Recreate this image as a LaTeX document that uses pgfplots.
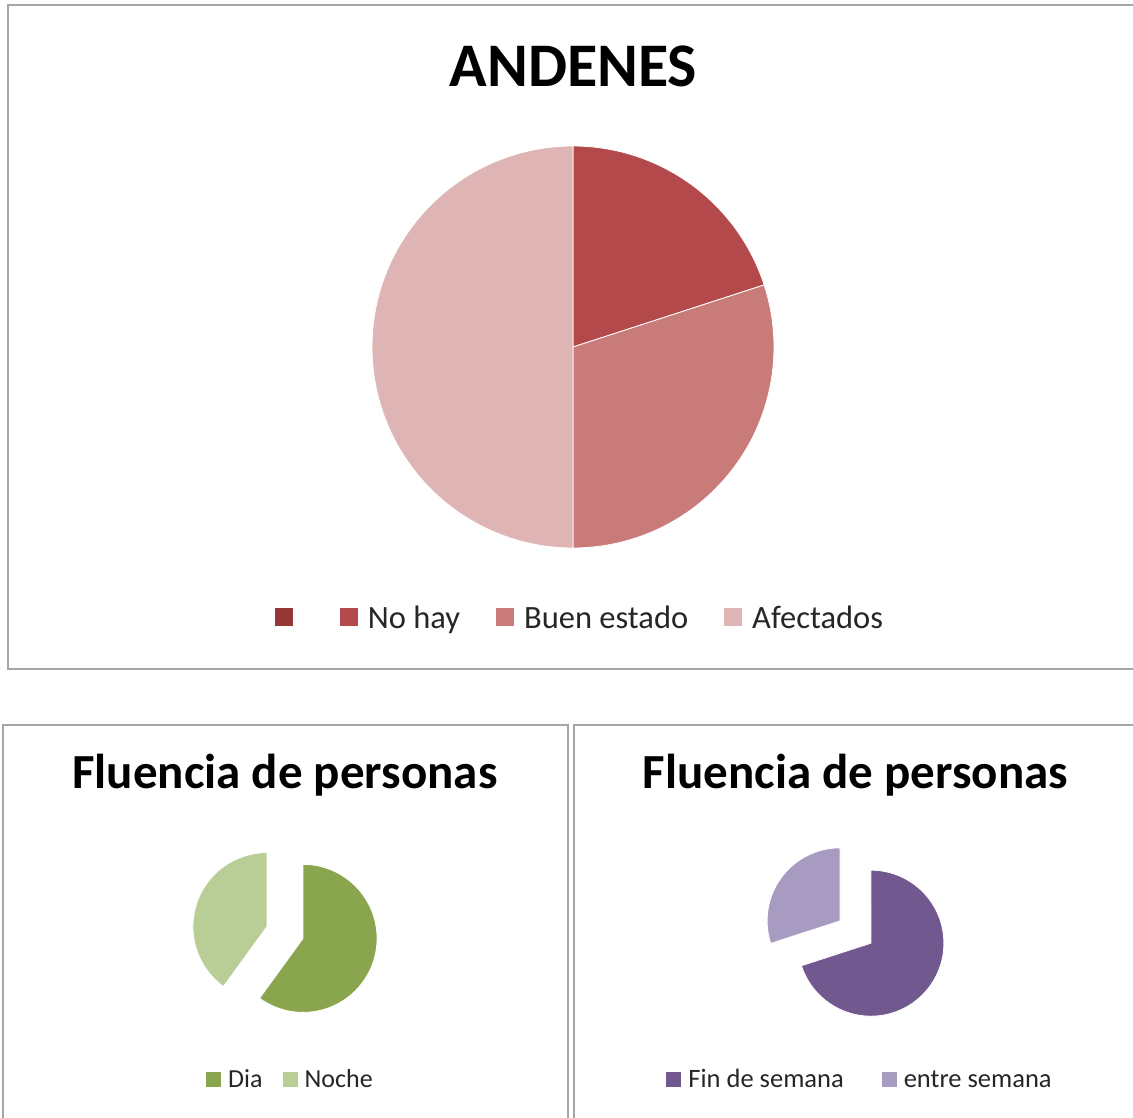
\documentclass[border=0pt]{standalone}
\usepackage{fontspec}
\setmainfont{Carlito}
\usepackage{pgfplots}
\pgfplotsset{compat=1.18}
\definecolor{cBlank}{HTML}{953735}
\definecolor{cNo}{HTML}{B3494A}
\definecolor{cBuen}{HTML}{C97B7A}
\definecolor{cAfe}{HTML}{DFB4B4}
\definecolor{cDia}{HTML}{89A54E}
\definecolor{cNoche}{HTML}{B9CE96}
\definecolor{cFin}{HTML}{71588F}
\definecolor{cEntre}{HTML}{A89BC1}
\definecolor{frame}{HTML}{A6A6A6}

% ---- data (percent) ----
\def\vBlank{0}\def\vNo{20}\def\vBuen{30}\def\vAfe{50}
\def\vDia{60}\def\vNoche{40}
\def\vFin{70}\def\vEntre{30}

\pgfplotsset{
  piebase/.style={hide axis, scale only axis, x=1pt, y=1pt,
    xmin=0, xmax=1133, ymin=-1117, ymax=0,
    at={(0pt,0pt)}, anchor=north west, clip=false,
    legend columns=-1},
}

\begin{document}
\begin{tikzpicture}
\useasboundingbox (0pt,0pt) rectangle (1133pt,-1117pt);
\fill[white] (0pt,0pt) rectangle (1133pt,-1117pt);
\draw[frame, line width=2pt] (8pt,-5pt) rectangle (1150pt,-669pt);
\draw[frame, line width=2pt] (3pt,-725pt) rectangle (568pt,-1135pt);
\draw[frame, line width=2pt] (573.5pt,-725pt) rectangle (1150pt,-1135pt);

% angles for ANDENES (clockwise from top)
\pgfmathsetmacro\aA{90-3.6*\vBlank}
\pgfmathsetmacro\aB{\aA-3.6*\vNo}
\pgfmathsetmacro\aC{\aB-3.6*\vBuen}
\pgfmathsetmacro\aD{\aC-3.6*\vAfe}

\begin{axis}[piebase,
  title={ANDENES},
  title style={at={(axis description cs:0.5061,0.9170)}, anchor=base, font=\bfseries\fontsize{62}{72}\selectfont},
  legend image code/.code={\fill[#1,draw=none] (0pt,-9pt) rectangle (18pt,9pt);},
  legend style={draw=none, fill=none, at={(axis description cs:0.5110,0.4472)}, anchor=center,
    font=\fontsize{32.5}{38}\selectfont, text=black!85,
    nodes={inner xsep=0pt, inner ysep=1pt},
    /tikz/every odd column/.append style={column sep=10pt},
    /tikz/every even column/.append style={column sep=36pt}},
]
\addlegendimage{fill=cBlank}
\addlegendentry{}
\addplot[fill=cNo, draw=white, line width=0.8pt, domain=\aB:\aA, samples=60, variable=\t]
  ({573+201*cos(\t)},{-347+201*sin(\t)}) -- (573,-347) -- cycle;
\addlegendentry{No hay}
\addplot[fill=cBuen, draw=white, line width=0.8pt, domain=\aC:\aB, samples=80, variable=\t]
  ({573+201*cos(\t)},{-347+201*sin(\t)}) -- (573,-347) -- cycle;
\addlegendentry{Buen estado}
\addplot[fill=cAfe, draw=white, line width=0.8pt, domain=\aD:\aC, samples=120, variable=\t]
  ({573+201*cos(\t)},{-347+201*sin(\t)}) -- (573,-347) -- cycle;
\addlegendentry{Afectados}
\end{axis}

% Dia / Noche (exploded)
\pgfmathsetmacro\dA{90}
\pgfmathsetmacro\dB{90-3.6*\vDia}
\pgfmathsetmacro\dC{\dB-3.6*\vNoche}
\pgfmathsetmacro\dmA{(\dA+\dB)/2}
\pgfmathsetmacro\dmB{(\dB+\dC)/2}
\pgfmathsetmacro\dxA{285+19*cos(\dmA)}
\pgfmathsetmacro\dyA{-932.5+19*sin(\dmA)}
\pgfmathsetmacro\dxB{285+19*cos(\dmB)}
\pgfmathsetmacro\dyB{-932.5+19*sin(\dmB)}

\begin{axis}[piebase,
  title={Fluencia de personas},
  title style={at={(axis description cs:0.2515,0.2883)}, anchor=base, font=\bfseries\fontsize{49}{58}\selectfont},
  legend image code/.code={\fill[#1,draw=none] (0pt,-7.5pt) rectangle (15pt,7.5pt);},
  legend style={draw=none, fill=none, at={(axis description cs:0.2555,0.0336)}, anchor=center,
    font=\fontsize{26}{31}\selectfont, text=black!85,
    nodes={inner xsep=0pt, inner ysep=1pt},
    /tikz/every odd column/.append style={column sep=7pt},
    /tikz/every even column/.append style={column sep=20pt}},
]
\addplot[fill=cDia, draw=white, line width=0.8pt, domain=\dB:\dA, samples=100, variable=\t]
  ({\dxA+74*cos(\t)},{\dyA+74*sin(\t)}) -- (\dxA,\dyA) -- cycle;
\addlegendentry{Dia}
\addplot[fill=cNoche, draw=white, line width=0.8pt, domain=\dC:\dB, samples=80, variable=\t]
  ({\dxB+74*cos(\t)},{\dyB+74*sin(\t)}) -- (\dxB,\dyB) -- cycle;
\addlegendentry{Noche}
\end{axis}

% Fin de semana / entre semana (exploded)
\pgfmathsetmacro\fA{90}
\pgfmathsetmacro\fB{90-3.6*\vFin}
\pgfmathsetmacro\fC{\fB-3.6*\vEntre}
\pgfmathsetmacro\fmA{(\fA+\fB)/2}
\pgfmathsetmacro\fmB{(\fB+\fC)/2}
\pgfmathsetmacro\fxA{855.5+19*cos(\fmA)}
\pgfmathsetmacro\fyA{-932+19*sin(\fmA)}
\pgfmathsetmacro\fxB{855.5+19*cos(\fmB)}
\pgfmathsetmacro\fyB{-932+19*sin(\fmB)}

\begin{axis}[piebase,
  title={Fluencia de personas},
  title style={at={(axis description cs:0.7551,0.2883)}, anchor=base, font=\bfseries\fontsize{49}{58}\selectfont},
  legend image code/.code={\fill[#1,draw=none] (0pt,-7.5pt) rectangle (15pt,7.5pt);},
  legend style={draw=none, fill=none, at={(axis description cs:0.7582,0.0336)}, anchor=center,
    font=\fontsize{26.5}{31}\selectfont, text=black!85,
    nodes={inner xsep=0pt, inner ysep=1pt},
    /tikz/every odd column/.append style={column sep=7pt},
    /tikz/every even column/.append style={column sep=38pt}},
]
\addplot[fill=cFin, draw=white, line width=0.8pt, domain=\fB:\fA, samples=100, variable=\t]
  ({\fxA+73*cos(\t)},{\fyA+73*sin(\t)}) -- (\fxA,\fyA) -- cycle;
\addlegendentry{Fin de semana}
\addplot[fill=cEntre, draw=white, line width=0.8pt, domain=\fC:\fB, samples=60, variable=\t]
  ({\fxB+73*cos(\t)},{\fyB+73*sin(\t)}) -- (\fxB,\fyB) -- cycle;
\addlegendentry{entre semana}
\end{axis}
\end{tikzpicture}
\end{document}
